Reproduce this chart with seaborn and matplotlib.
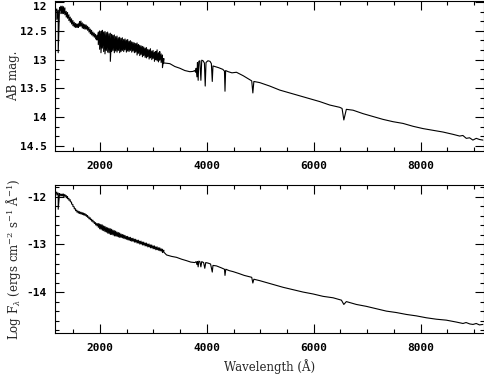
import numpy as np
import pandas as pd
import matplotlib
matplotlib.use("Agg")
import matplotlib.pyplot as plt
from matplotlib.ticker import MultipleLocator, FixedLocator
import seaborn as sns

# ---------------- data ----------------
# UV part (noisy IUE range): at each wavelength the upper and lower edge of the noise
uv_wave = [1170, 1195, 1220, 1245, 1270, 1295, 1320, 1345, 1370, 1395,
           1420, 1445, 1470, 1495, 1520, 1545, 1570, 1595, 1620, 1645,
           1670, 1695, 1720, 1745, 1770, 1795, 1820, 1845, 1870, 1895,
           1920, 1945, 1970, 1995, 2020, 2045, 2070, 2095, 2120, 2145,
           2170, 2195, 2220, 2245, 2270, 2295, 2320, 2345, 2370, 2395,
           2420, 2445, 2470, 2495, 2520, 2545, 2570, 2595, 2620, 2645,
           2670, 2695, 2720, 2745, 2770, 2795, 2820, 2845, 2870, 2895,
           2920, 2945, 2970, 2995, 3020, 3045, 3070, 3095, 3120, 3145,
           3170, 3195]
uv_mag_hi = [12.10, 12.12, 12.14, 12.09, 12.07, 12.07, 12.08, 12.10, 12.16, 12.18,
             12.22, 12.26, 12.29, 12.32, 12.35, 12.37, 12.38, 12.38, 12.34, 12.33,
             12.36, 12.38, 12.39, 12.40, 12.42, 12.44, 12.47, 12.49, 12.52, 12.54,
             12.56, 12.58, 12.52, 12.50, 12.51, 12.49, 12.52, 12.51, 12.53, 12.52,
             12.55, 12.54, 12.56, 12.58, 12.57, 12.60, 12.59, 12.62, 12.61, 12.63,
             12.62, 12.65, 12.64, 12.66, 12.65, 12.68, 12.67, 12.69, 12.70, 12.71,
             12.72, 12.71, 12.74, 12.75, 12.76, 12.77, 12.78, 12.80, 12.79, 12.82,
             12.83, 12.81, 12.85, 12.84, 12.87, 12.86, 12.83, 12.88, 12.86, 12.90,
             12.92, 12.98]
uv_mag_lo = [12.16, 12.30, 12.88, 12.15, 12.20, 12.20, 12.20, 12.22, 12.26, 12.28,
             12.32, 12.35, 12.38, 12.41, 12.43, 12.44, 12.44, 12.44, 12.42, 12.42,
             12.45, 12.46, 12.47, 12.47, 12.49, 12.52, 12.55, 12.57, 12.59, 12.61,
             12.64, 12.66, 12.74, 12.82, 12.88, 12.80, 12.86, 12.90, 12.84, 12.87,
             12.88, 13.03, 12.86, 12.84, 12.88, 12.85, 12.87, 12.84, 12.88, 12.86,
             12.84, 12.86, 12.83, 12.87, 12.85, 12.86, 12.84, 12.87, 12.85, 12.88,
             12.87, 12.92, 12.89, 12.93, 12.91, 12.95, 12.93, 12.96, 12.97, 12.95,
             12.99, 12.97, 13.00, 12.98, 13.03, 13.00, 13.02, 13.04, 13.01, 13.05,
             13.14, 13.06]
uv_logf_hi = [-11.88, -11.90, -11.92, -11.93, -11.94, -11.94, -11.94, -11.95, -11.97, -11.99,
              -12.03, -12.06, -12.11, -12.16, -12.21, -12.25, -12.28, -12.30, -12.31, -12.32,
              -12.33, -12.34, -12.35, -12.37, -12.39, -12.42, -12.44, -12.47, -12.49, -12.52,
              -12.54, -12.56, -12.56, -12.57, -12.58, -12.59, -12.61, -12.62, -12.64, -12.65,
              -12.66, -12.67, -12.68, -12.70, -12.71, -12.72, -12.74, -12.75, -12.76, -12.78,
              -12.79, -12.80, -12.81, -12.83, -12.83, -12.85, -12.85, -12.87, -12.87, -12.89,
              -12.89, -12.91, -12.91, -12.93, -12.93, -12.95, -12.95, -12.97, -12.97, -12.99,
              -12.99, -13.01, -13.01, -13.03, -13.03, -13.05, -13.05, -13.07, -13.07, -13.09,
              -13.10, -13.12]
uv_logf_lo = [-11.93, -11.96, -12.26, -11.97, -11.98, -11.98, -11.99, -11.99, -12.02, -12.04,
              -12.07, -12.10, -12.15, -12.20, -12.25, -12.29, -12.32, -12.34, -12.35, -12.36,
              -12.37, -12.38, -12.39, -12.41, -12.43, -12.46, -12.48, -12.51, -12.53, -12.56,
              -12.59, -12.61, -12.64, -12.67, -12.68, -12.70, -12.71, -12.73, -12.74, -12.76,
              -12.77, -12.79, -12.79, -12.80, -12.82, -12.82, -12.83, -12.84, -12.85, -12.85,
              -12.86, -12.87, -12.88, -12.89, -12.90, -12.91, -12.92, -12.93, -12.93, -12.95,
              -12.95, -12.97, -12.97, -12.99, -12.99, -13.01, -13.01, -13.03, -13.03, -13.05,
              -13.05, -13.07, -13.07, -13.09, -13.09, -13.11, -13.11, -13.12, -13.13, -13.14,
              -13.17, -13.16]

# optical part, AB magnitude (top panel)
opt_wave_top = [3215, 3308, 3402, 3495, 3589, 3682, 3744, 3770, 3790, 3800,
                3815, 3825, 3838, 3850, 3870, 3889, 3905, 3930, 3955, 3970,
                3985, 4020, 4060, 4085, 4102, 4115, 4150, 4220, 4300, 4330,
                4340, 4352, 4400, 4470, 4554, 4680, 4804, 4840, 4861, 4880,
                4990, 5177, 5364, 5551, 5738, 5925, 6112, 6299, 6486, 6530,
                6563, 6610, 6735, 6922, 7109, 7296, 7483, 7670, 7857, 8044,
                8231, 8418, 8605, 8730, 8790, 8854, 8915, 8977, 9040, 9102,
                9164]
opt_mag = [13.06, 13.07, 13.12, 13.15, 13.19, 13.21, 13.205, 13.19, 13.22, 13.15,
           13.30, 13.05, 13.36, 13.03, 13.02, 13.36, 13.01, 13.02, 13.06, 13.46,
           13.05, 13.02, 13.03, 13.07, 13.38, 13.11, 13.12, 13.14, 13.17, 13.20,
           13.55, 13.19, 13.21, 13.23, 13.22, 13.28, 13.35, 13.37, 13.58, 13.38,
           13.40, 13.46, 13.53, 13.58, 13.63, 13.68, 13.73, 13.79, 13.83, 13.85,
           14.05, 13.865, 13.88, 13.94, 13.99, 14.04, 14.08, 14.11, 14.16, 14.20,
           14.23, 14.26, 14.30, 14.33, 14.32, 14.37, 14.36, 14.40, 14.37, 14.39,
           14.40]

# optical part, log F_lambda (bottom panel)
opt_wave_bot = [3247, 3340, 3433, 3530, 3620, 3700, 3776, 3800, 3815, 3825,
                3838, 3850, 3870, 3889, 3905, 3940, 3962, 3980, 4020, 4070,
                4102, 4115, 4180, 4270, 4330, 4340, 4355, 4420, 4491, 4600,
                4700, 4804, 4840, 4861, 4880, 4990, 5053, 5240, 5427, 5614,
                5801, 5988, 6175, 6362, 6518, 6563, 6610, 6797, 6984, 7171,
                7358, 7545, 7732, 7919, 8106, 8293, 8480, 8667, 8792, 8850,
                8920, 8979, 9040, 9100, 9164]
opt_logf = [-13.22, -13.25, -13.27, -13.31, -13.34, -13.37, -13.38, -13.36, -13.42, -13.36,
            -13.47, -13.35, -13.36, -13.47, -13.36, -13.38, -13.50, -13.38, -13.39, -13.41,
            -13.58, -13.44, -13.45, -13.49, -13.52, -13.65, -13.52, -13.55, -13.57, -13.61,
            -13.65, -13.68, -13.69, -13.81, -13.73, -13.76, -13.78, -13.84, -13.90, -13.95,
            -14.00, -14.04, -14.09, -14.12, -14.17, -14.26, -14.20, -14.26, -14.30, -14.35,
            -14.40, -14.43, -14.47, -14.50, -14.54, -14.57, -14.59, -14.63, -14.66, -14.64,
            -14.67, -14.68, -14.66, -14.69, -14.68]

x_ticks = [2000, 4000, 6000, 8000]
mag_ticks = [12, 12.5, 13, 13.5, 14, 14.5]
mag_tick_labels = ["12", "12.5", "13", "13.5", "14", "14.5"]
logf_ticks = [-12, -13, -14]
logf_tick_labels = ["-12", "-13", "-14"]


def spectrum(hi, lo, wave_opt, val_opt):
    # each UV sample contributes its upper and lower noise edge, then the optical part follows
    w = list(np.repeat(uv_wave, 2)) + list(wave_opt)
    v = list(np.column_stack([hi, lo]).ravel()) + list(val_opt)
    return pd.DataFrame({"wave": w, "val": v})


top = spectrum(uv_mag_hi, uv_mag_lo, opt_wave_top, opt_mag)
bot = spectrum(uv_logf_hi, uv_logf_lo, opt_wave_bot, opt_logf)

# ---------------- plotting ----------------
sns.set_style("ticks")
plt.rcParams["font.family"] = ["DejaVu Sans Mono", "DejaVu Sans"]
plt.rcParams["mathtext.fontset"] = "dejavuserif"

fig = plt.figure(figsize=(4.85, 3.75), dpi=100)
ax1 = fig.add_axes([55 / 485, 1 - 151 / 375, 429 / 485, 150 / 375])
ax2 = fig.add_axes([55 / 485, 1 - 333 / 375, 429 / 485, 148 / 375])

for ax, df in ((ax1, top), (ax2, bot)):
    sns.lineplot(data=df, x="wave", y="val", ax=ax, color="black", lw=0.8,
                 estimator=None, sort=False, legend=False)
    ax.set_xlim(1160, 9185)
    ax.xaxis.set_major_locator(FixedLocator(x_ticks))
    ax.xaxis.set_minor_locator(MultipleLocator(500))
    ax.set_xticklabels([str(t) for t in x_ticks])
    ax.tick_params(which="both", direction="in", top=True, right=True,
                   width=0.8, colors="black", labelsize=8)
    ax.tick_params(which="major", length=6.5)
    ax.tick_params(which="minor", length=3.2)
    ax.tick_params(axis="x", pad=7)
    ax.tick_params(axis="y", pad=6)
    for sp in ax.spines.values():
        sp.set_linewidth(0.8)
        sp.set_color("black")
    ax.set_xlabel("")
    ax.set_ylabel("")

ax1.set_ylim(14.59, 11.98)
ax1.yaxis.set_major_locator(FixedLocator(mag_ticks))
ax1.yaxis.set_minor_locator(MultipleLocator(0.5 / 3))
ax1.set_yticklabels(mag_tick_labels)

ax2.set_ylim(-14.86, -11.75)
ax2.yaxis.set_major_locator(FixedLocator(logf_ticks))
ax2.yaxis.set_minor_locator(MultipleLocator(0.2))
ax2.set_yticklabels(logf_tick_labels)

for ax in (ax1, ax2):
    for lab in ax.get_xticklabels() + ax.get_yticklabels():
        lab.set_fontweight("bold")

ax1.yaxis.get_major_ticks()[0].label1.set_va("top")

lab_font = dict(family="DejaVu Serif", size=8.5)
ax1.set_ylabel("AB mag.", va="center", **lab_font)
ax1.yaxis.set_label_coords(-0.097, 0.5)
ax2.set_ylabel(r"Log F$_\lambda$ (ergs cm$^{-2}$ s$^{-1}$ $\mathrm{\AA}^{-1}$)",
               va="center", **lab_font)
ax2.yaxis.set_label_coords(-0.097, 0.5)
ax2.set_xlabel("Wavelength (Å)", **lab_font)
ax2.xaxis.set_label_coords(0.5, -0.23)
ax2.xaxis.label.set_va("center")

fig.savefig("out.png", dpi=100)
